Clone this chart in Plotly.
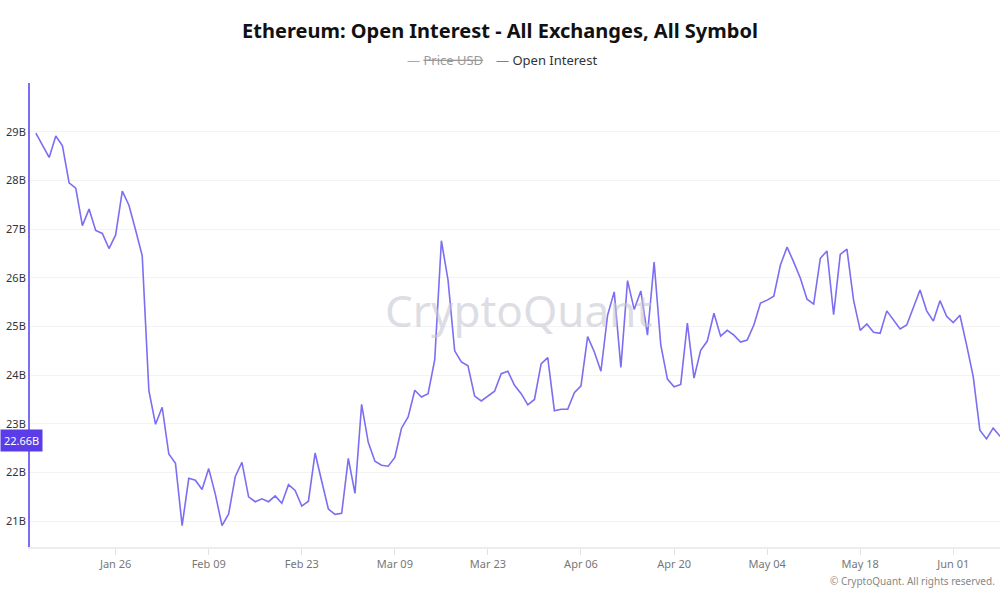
import pandas as pd
import plotly.graph_objects as go

# ---- data ----
start_date = "2025-01-14"
open_interest_b = [
    28.97, 28.73, 28.47, 28.91, 28.71, 27.95, 27.84, 27.07, 27.41, 26.97,
    26.91, 26.60, 26.88, 27.78, 27.49, 26.98, 26.45, 23.68, 22.99, 23.34,
    22.38, 22.19, 20.91, 21.88, 21.84, 21.65, 22.08, 21.55, 20.91, 21.15,
    21.92, 22.21, 21.50, 21.40, 21.46, 21.40, 21.52, 21.37, 21.75, 21.63,
    21.31, 21.41, 22.40, 21.82, 21.25, 21.14, 21.16, 22.29, 21.57, 23.40,
    22.62, 22.23, 22.15, 22.13, 22.31, 22.91, 23.14, 23.69, 23.55, 23.62,
    24.32, 26.76, 25.95, 24.50, 24.27, 24.19, 23.57, 23.47, 23.57, 23.67,
    24.03, 24.08, 23.79, 23.62, 23.39, 23.50, 24.23, 24.36, 23.27, 23.30,
    23.30, 23.64, 23.78, 24.79, 24.48, 24.08, 25.23, 25.71, 24.16, 25.94,
    25.35, 25.73, 24.82, 26.32, 24.62, 23.92, 23.76, 23.81, 25.07, 23.94,
    24.51, 24.70, 25.27, 24.80, 24.92, 24.82, 24.68, 24.72, 25.03, 25.48,
    25.54, 25.62, 26.26, 26.63, 26.32, 25.99, 25.56, 25.46, 26.40, 26.55,
    25.24, 26.48, 26.59, 25.54, 24.92, 25.05, 24.88, 24.86, 25.32, 25.13,
    24.95, 25.03, 25.40, 25.75, 25.32, 25.11, 25.53, 25.21, 25.08, 25.23,
    24.62, 23.97, 22.87, 22.69, 22.91, 22.75, 22.66,
]
dates = pd.date_range(start_date, periods=len(open_interest_b), freq="D")
y_tick_values = [21, 22, 23, 24, 25, 26, 27, 28, 29]
y_tick_labels = ["21B", "22B", "23B", "24B", "25B", "26B", "27B", "28B", "29B"]
last_value_label = "22.66B"

FONT = "Noto Sans"
LINE_COLOR = "#7b6ef2"
ML, MR, MT, MB = 30, 0, 83, 53
PW = 1000 - ML - MR
PH = 600 - MT - MB


def px_x(px):
    return (px - ML) / PW


def px_y(py):
    return 1 - (py - MT) / PH


fig = go.Figure()
fig.add_trace(go.Scatter(
    x=dates, y=open_interest_b, mode="lines", name="Open Interest",
    line=dict(color=LINE_COLOR, width=1.6), showlegend=False,
))

fig.update_layout(
    template="none",
    width=1000, height=600,
    margin=dict(l=ML, r=MR, t=MT, b=MB),
    paper_bgcolor="white", plot_bgcolor="white",
    font=dict(family=FONT, color="#333"),
    title=dict(
        text="<b>Ethereum: Open Interest - All Exchanges, All Symbol</b>",
        x=0.5, xanchor="center", y=1 - 31 / 600, yanchor="middle",
        font=dict(size=20, color="#111", family=FONT),
    ),
    showlegend=False,
)

fig.update_xaxes(
    type="date",
    range=["2025-01-13 02:50", "2025-06-08 00:40"],
    tick0="2025-01-26", dtick=14 * 86400000, tickformat="%b %d",
    showgrid=False, zeroline=False,
    showline=True, linecolor="#ececec", linewidth=2,
    ticks="outside", ticklen=6, tickcolor="#e2e2e2", tickwidth=1,
    tickfont=dict(size=11, color="#777", family=FONT),
    automargin=False,
)
fig.update_yaxes(
    range=[20.47, 30.0],
    tickvals=y_tick_values, ticktext=y_tick_labels,
    showgrid=True, gridcolor="#f3f3f3", gridwidth=1, zeroline=False,
    showline=True, linecolor=LINE_COLOR, linewidth=2,
    ticks="", tickfont=dict(size=11, color="#333", family=FONT),
    automargin=False,
)

# current-value badge on the axis
fig.add_annotation(
    xref="paper", yref="y", x=px_x(0), y=open_interest_b[-1], xanchor="left", yanchor="middle",
    text=last_value_label, showarrow=False, bgcolor="#5a3de8", borderpad=3,
    font=dict(size=11, color="white", family=FONT),
)
# watermark
fig.add_annotation(
    xref="paper", yref="paper", x=px_x(518), y=px_y(310), text="CryptoQuant", showarrow=False,
    font=dict(size=44, color="rgba(198,198,210,0.6)", family=FONT),
)
# legend (custom, matching the small line samples)
fig.add_annotation(
    xref="paper", yref="paper", x=px_x(405), y=px_y(60),
    xanchor="left", yanchor="middle", showarrow=False,
    text='<span style="color:#a8a8a8">—</span> <s>Price USD</s>',
    font=dict(size=13, color="#999", family=FONT),
)
fig.add_annotation(
    xref="paper", yref="paper", x=px_x(494), y=px_y(60),
    xanchor="left", yanchor="middle", showarrow=False,
    text=f'<span style="color:{LINE_COLOR}">—</span> Open Interest',
    font=dict(size=13, color="#333", family=FONT),
)
# copyright
fig.add_annotation(
    xref="paper", yref="paper", x=px_x(997), y=px_y(581),
    xanchor="right", yanchor="middle", showarrow=False,
    text="© CryptoQuant. All rights reserved.",
    font=dict(size=10, color="#888", family=FONT),
)

fig.write_html("out.html")
